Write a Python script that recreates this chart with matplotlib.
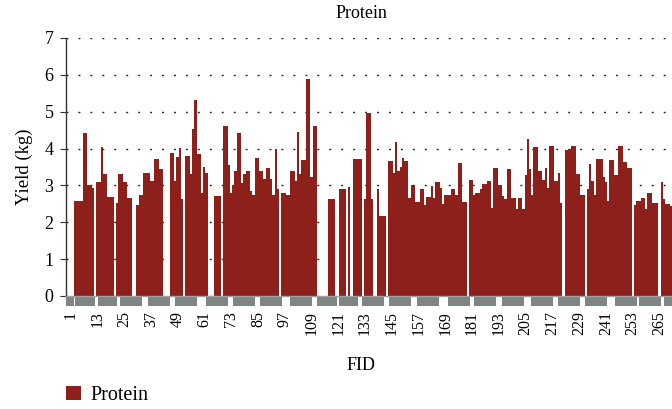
import matplotlib
matplotlib.use("Agg")
import matplotlib.pyplot as plt
from matplotlib.patches import Rectangle, Patch
import numpy as np

plt.rcParams['font.family'] = ['Liberation Serif', 'DejaVu Serif']

# ---- data ----
protein = [
    0, 0, 2.57, 2.57, 2.57, 2.57, 4.41, 4.41, 3.01, 3.01,
    2.94, 0, 3.09, 3.09, 4.05, 3.30, 3.30, 2.69, 2.69, 2.69,
    0, 2.53, 3.30, 3.30, 3.08, 3.08, 2.65, 2.65, 0, 0,
    2.48, 2.74, 2.74, 3.35, 3.35, 3.35, 3.13, 3.13, 3.73, 3.73,
    3.45, 3.45, 0, 0, 0, 3.89, 3.89, 3.11, 3.78, 4.02,
    2.64, 0, 3.80, 3.80, 3.30, 4.54, 5.32, 3.85, 3.85, 2.79,
    3.51, 3.34, 0, 0, 0, 2.72, 2.72, 2.72, 0, 4.62,
    4.62, 3.56, 2.79, 3.00, 3.40, 4.42, 4.42, 3.07, 3.30, 3.40,
    3.40, 2.84, 2.74, 3.75, 3.75, 3.40, 3.40, 3.18, 3.47, 3.47,
    3.18, 2.73, 4.00, 2.89, 0, 2.79, 2.79, 2.74, 2.74, 3.40,
    3.40, 3.13, 4.45, 3.30, 3.68, 3.68, 5.89, 5.89, 3.23, 4.61,
    4.61, 0, 0, 0, 0, 0, 2.62, 2.62, 2.62, 0,
    0, 2.89, 2.89, 2.89, 0, 2.97, 0, 3.73, 3.73, 3.73,
    3.73, 0, 2.62, 4.97, 4.97, 2.62, 0, 0, 2.89, 2.18,
    2.18, 2.18, 0, 3.67, 3.67, 3.35, 4.19, 3.40, 3.49, 3.75,
    3.67, 3.67, 2.67, 3.02, 3.02, 2.56, 2.56, 2.91, 2.91, 2.48,
    2.68, 2.68, 2.98, 2.67, 3.09, 3.09, 2.94, 2.50, 2.74, 2.74,
    2.74, 2.91, 2.91, 2.73, 3.61, 3.61, 2.56, 2.56, 0, 3.15,
    3.15, 2.74, 2.80, 2.80, 2.91, 3.05, 3.05, 3.13, 3.13, 2.39,
    3.46, 3.46, 3.02, 3.02, 2.70, 2.64, 3.45, 3.45, 2.67, 2.67,
    2.36, 2.67, 2.67, 2.36, 3.28, 4.25, 3.44, 2.74, 4.05, 4.05,
    3.40, 3.40, 3.15, 3.47, 2.92, 4.06, 4.06, 3.13, 3.13, 3.35,
    2.52, 0, 3.95, 3.95, 4.00, 4.07, 4.07, 3.30, 3.30, 2.74,
    2.74, 0, 2.90, 3.58, 3.13, 2.74, 3.71, 3.71, 3.71, 3.24,
    3.08, 2.57, 3.70, 3.70, 3.28, 3.28, 4.07, 4.07, 3.64, 3.64,
    3.47, 3.47, 0, 2.48, 2.59, 2.59, 2.65, 2.65, 2.37, 2.80,
    2.80, 2.52, 2.52, 2.52, 0, 3.08, 2.64, 2.50, 2.50, 2.43, 2.43,
]
fid = list(range(1, len(protein) + 1))
tick_fids = list(range(1, 266, 12))
tick_labels = [str(t) for t in tick_fids]
y_ticks = list(range(0, 8))

# grey group bands under the axis (FID ranges)
group_start = [-1.0, 3.0, 13.3, 23.2, 35.7, 47.8, 61.7, 73.8, 86.0, 99.4, 111.5, 121.4,
               131.7, 143.8, 156.3, 170.2, 181.8, 194.3, 207.3, 219.4, 231.6, 245.0, 255.7, 267.0]
group_end = [2.6, 12.0, 21.8, 33.0, 45.6, 57.7, 71.6, 83.7, 95.8, 109.3, 120.5, 129.9,
             141.5, 153.6, 166.2, 180.0, 191.7, 204.2, 217.2, 229.3, 241.4, 254.8, 265.6, 277.0]

bar_color = '#8e201b'
grey = '#7f8484'

W, H = 672, 409
fig = plt.figure(figsize=(W / 100, H / 100), dpi=100)
ax = fig.add_axes([66 / W, 113 / H, (W - 66) / W, (296 - 38) / H])

ax.bar(fid, protein, width=1.0, color=bar_color, linewidth=0, zorder=2)

for s, e in zip(group_start, group_end):
    ax.add_patch(Rectangle((s, -0.26), e - s, 0.26, facecolor=grey, edgecolor='none',
                           clip_on=False, zorder=1))

L = 1 - 4.5 / 2.231
ax.set_xlim(L, L + (W - 66) / 2.231)
ax.set_ylim(0, 7)

ax.set_xticks(tick_fids)
ax.set_xticklabels(tick_labels, rotation=90, fontsize=11.5)
ax.tick_params(axis='x', length=0, pad=11)
ax.set_yticks(y_ticks)
ax.tick_params(axis='y', length=4, width=0.8, color='#333333', labelsize=13, pad=5)

ax.yaxis.grid(True, linestyle=(0, (1.4, 7.2)), color='#222222', linewidth=1.0)
ax.set_axisbelow(True)

for sp in ['top', 'right']:
    ax.spines[sp].set_visible(False)
ax.spines['left'].set_color('#333333')
ax.spines['left'].set_linewidth(1.0)
ax.spines['bottom'].set_color('#a0a0a0')
ax.spines['bottom'].set_linewidth(1.0)
ax.spines['bottom'].set_zorder(3)

ax.set_ylabel('Yield (kg)', fontsize=13.5, labelpad=8)

fig.text(361 / W, 1 - 14 / H, 'Protein', ha='center', va='center', fontsize=13)
fig.text(361 / W, 1 - 366 / H, 'FID', ha='center', va='center', fontsize=13)

fig.legend(handles=[Patch(facecolor=bar_color, edgecolor='none', label='Protein')],
           loc='lower left', bbox_to_anchor=(66 / W, 4 / H), frameon=False,
           borderpad=0, borderaxespad=0,
           fontsize=14.5, handlelength=0.75, handleheight=0.75, handletextpad=0.45)

fig.savefig('out.png', dpi=100)
